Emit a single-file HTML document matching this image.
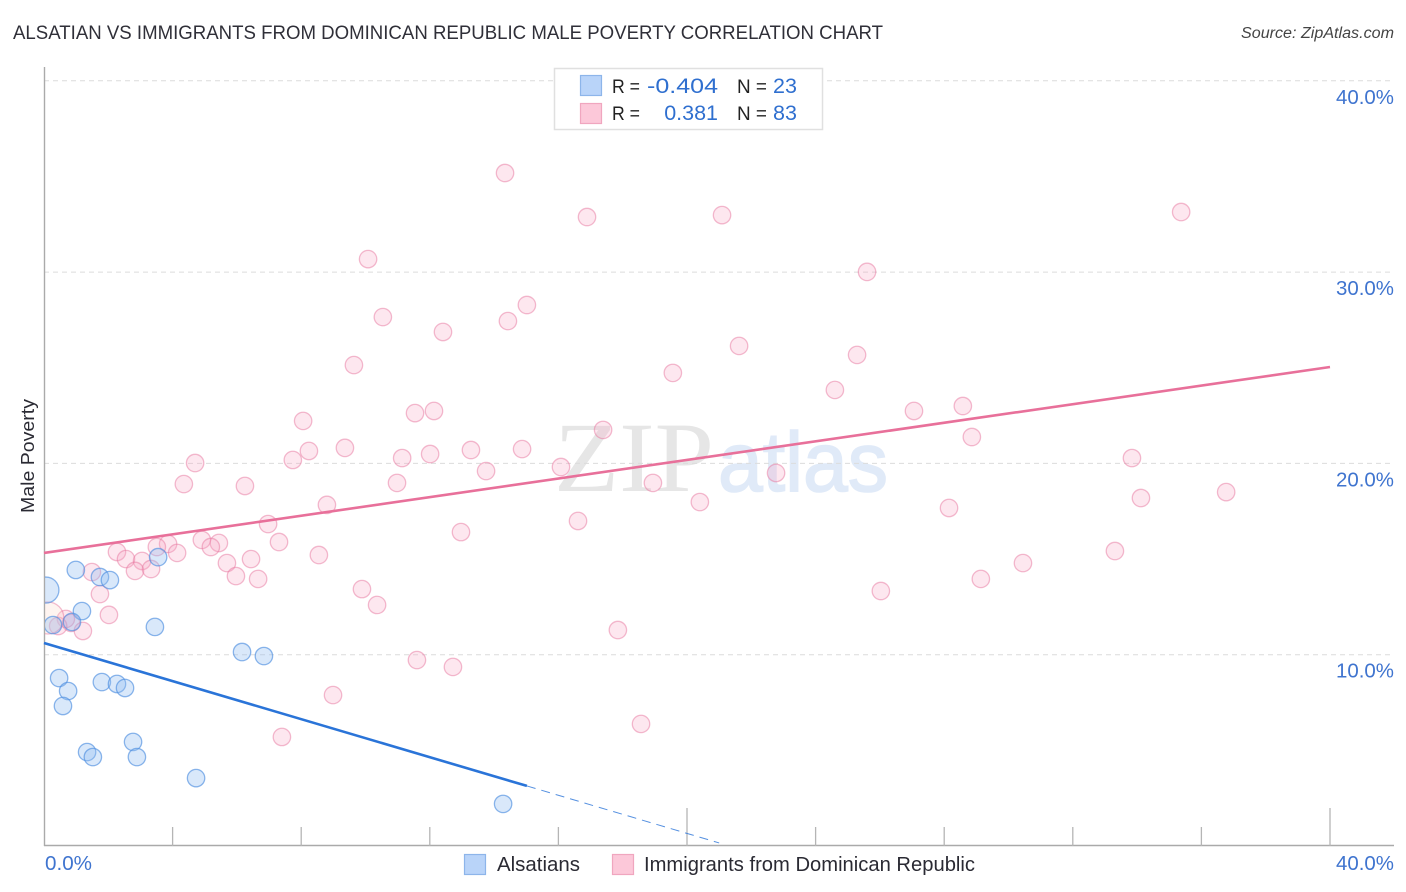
<!DOCTYPE html>
<html lang="en">
<head>
<meta charset="utf-8">
<title>Alsatian vs Immigrants from Dominican Republic Male Poverty Correlation Chart</title>
<style>
html,body{margin:0;padding:0;background:#fff;}
svg{display:block;font-family:"Liberation Sans",sans-serif;}
</style>
</head>
<body>
<svg id="chart" xmlns="http://www.w3.org/2000/svg" width="1406" height="892" viewBox="0 0 1406 892">
  <defs>
    <clipPath id="plot-clip"><rect x="45" y="60" width="1349" height="785"/></clipPath>
  </defs>
  <text x="13" y="39" font-size="19" fill="#2f2f38" textLength="870" lengthAdjust="spacingAndGlyphs">ALSATIAN VS IMMIGRANTS FROM DOMINICAN REPUBLIC MALE POVERTY CORRELATION CHART</text>
  <text x="1241" y="38" font-size="15.5" font-style="italic" fill="#444" textLength="153" lengthAdjust="spacingAndGlyphs">Source: ZipAtlas.com</text>

  <g id="watermark">
    <text x="554" y="491" font-family="'Liberation Serif',serif" font-size="100" fill="#e6e6e6" textLength="160" lengthAdjust="spacingAndGlyphs">ZIP</text>
    <text x="718" y="491" font-size="84" fill="#e0eaf8" stroke="#e0eaf8" stroke-width="1.6" textLength="170" lengthAdjust="spacingAndGlyphs">atlas</text>
  </g>

  <g id="grid"></g>
  <g id="axes"></g>
  <g id="points" clip-path="url(#plot-clip)"></g>
  <g id="trends"></g>
  <g id="labels"></g>

  <text transform="translate(34,513) rotate(-90)" font-size="18.5" fill="#2a2a33" textLength="114" lengthAdjust="spacingAndGlyphs">Male Poverty</text>

  <g>
    <rect x="554.5" y="68.5" width="268" height="61" fill="#fff" stroke="#e0e0e0" stroke-width="1.5"/>
    <rect x="580.5" y="75.5" width="21" height="20" fill="#b9d4f9" stroke="#8db5ea" stroke-width="1.2"/>
    <rect x="580.5" y="103.5" width="21" height="20" fill="#fcc8d9" stroke="#f0a6bf" stroke-width="1.2"/>
    <text x="612" y="93" font-size="19" fill="#222" textLength="28" lengthAdjust="spacingAndGlyphs">R =</text>
    <text x="647" y="93" font-size="21.5" fill="#2f6fcf" textLength="71" lengthAdjust="spacingAndGlyphs">-0.404</text>
    <text x="737" y="93" font-size="19" fill="#222" textLength="30" lengthAdjust="spacingAndGlyphs">N =</text>
    <text x="773" y="93" font-size="21.5" fill="#2f6fcf">23</text>
    <text x="612" y="120" font-size="19" fill="#222" textLength="28" lengthAdjust="spacingAndGlyphs">R =</text>
    <text x="718" y="120" font-size="21.5" fill="#2f6fcf" text-anchor="end">0.381</text>
    <text x="737" y="120" font-size="19" fill="#222" textLength="30" lengthAdjust="spacingAndGlyphs">N =</text>
    <text x="773" y="120" font-size="21.5" fill="#2f6fcf">83</text>
  </g>

  <g>
    <rect x="464.5" y="854.5" width="21" height="20" fill="#b9d4f9" stroke="#8db5ea" stroke-width="1.2"/>
    <text x="497" y="871" font-size="20" fill="#2a2a33" textLength="83" lengthAdjust="spacingAndGlyphs">Alsatians</text>
    <rect x="612.5" y="854.5" width="21" height="20" fill="#fcc8d9" stroke="#f0a6bf" stroke-width="1.2"/>
    <text x="644" y="871" font-size="20" fill="#2a2a33" textLength="331" lengthAdjust="spacingAndGlyphs">Immigrants from Dominican Republic</text>
  </g>
</svg>
<script>
var yGridValues = [10, 20, 30, 40];
var yTickLabels = ["10.0%", "20.0%", "30.0%", "40.0%"];
var xTickValues = [4, 8, 12, 16, 20, 24, 28, 32, 36, 40];
var xMajorTicks = [20, 40];
var xEndLabels = ["0.0%", "40.0%"];

var alsatianX = [0.06,0.99,1.74,2.05,3.55,1.18,0.87,0.28,3.45,6.16,6.84,0.47,0.75,0.59,1.80,2.27,2.52,1.34,1.52,2.77,2.89,4.73,14.28];
var alsatianY = [13.38,14.43,14.06,13.90,15.10,12.28,11.71,11.55,11.45,10.14,9.93,8.78,8.10,7.32,8.57,8.47,8.26,4.91,4.65,5.44,4.65,3.55,2.20];
var alsatianSize = [13,8.7,8.7,8.7,8.7,8.7,8.7,8.7,8.7,8.7,8.7,8.7,8.7,8.7,8.7,8.7,8.7,8.7,8.7,8.7,8.7,8.7,8.7];

var immigrantX = [14.34,16.89,21.09,35.37,10.08,25.60,10.54,15.02,14.43,12.41,21.62,9.64,25.29,19.56,24.60,11.54,12.13,27.06,28.58,8.06,17.39,28.86,9.36,8.24,7.74,11.14,12.01,13.28,14.87,33.84,4.70,13.75,16.08,22.77,4.35,6.25,10.98,18.94,34.12,36.77,8.80,20.40,28.15,6.97,12.97,16.61,7.31,4.91,5.44,3.86,3.51,2.27,2.55,4.14,5.19,3.05,5.69,6.44,8.55,33.31,30.45,2.83,3.33,1.49,5.97,6.66,29.14,9.89,26.03,1.74,10.36,2.02,17.85,0.84,1.21,0.68,0.44,0.12,11.60,12.72,8.99,18.57,7.40];
var immigrantY = [35.18,32.88,32.98,33.14,30.68,30.01,27.65,28.28,27.44,26.87,26.14,25.14,25.67,24.73,23.84,22.63,22.74,22.74,23.00,22.22,21.75,21.38,20.81,20.65,20.18,20.28,20.49,20.70,20.75,20.28,20.02,19.60,19.81,19.50,18.92,18.82,18.98,18.98,18.19,18.50,17.83,17.98,17.67,16.83,16.41,16.99,15.89,16.00,15.84,15.79,15.63,15.37,15.00,15.32,15.63,14.90,14.79,15.00,15.21,15.42,14.79,14.38,14.48,14.32,14.11,13.96,13.96,13.43,13.33,13.17,12.60,12.08,11.29,11.66,11.24,11.87,11.50,11.92,9.72,9.36,7.89,6.38,5.70];
var immigrantLargeIndex = 77;

var immigrantTrendX = [0, 40];
var immigrantTrendY = [15.32, 25.04];
var alsatianTrendX = [0, 15.02];
var alsatianTrendY = [10.61, 3.14];
var alsatianDashX = [15.02, 21.0];
var alsatianDashY = [3.14, 0.16];

var NS = "http://www.w3.org/2000/svg";
function xScale(v) { return 44 + v * 32.15; }
function yScale(v) { return 846 - v * 19.13; }
function make(tag, parentId) {
  var el = document.createElementNS(NS, tag);
  document.getElementById(parentId).appendChild(el);
  return el;
}

yGridValues.forEach(function (v, i) {
  var line = make("line", "grid");
  
  
  line.setAttribute("x1", 44);
  line.setAttribute("x2", 1394);
  line.setAttribute("y1", yScale(v));
  line.setAttribute("y2", yScale(v));
  line.setAttribute("stroke", "#dcdcdc");
  line.setAttribute("stroke-width", "1");
  line.setAttribute("stroke-dasharray", "5 4");

  var label = make("text", "labels");
  
  
  label.setAttribute("x", 1336);
  label.setAttribute("y", yScale(v) + 23);
  label.setAttribute("font-size", "20");
  label.setAttribute("fill", "#3f74cf");
  label.setAttribute("textLength", "58");
  label.setAttribute("lengthAdjust", "spacingAndGlyphs");
  label.textContent = yTickLabels[i];
});

var yAxisLine = make("line", "axes");


yAxisLine.setAttribute("x1", 44.5);
yAxisLine.setAttribute("x2", 44.5);
yAxisLine.setAttribute("y1", 67);
yAxisLine.setAttribute("y2", 846);
yAxisLine.setAttribute("stroke", "#aaa");
yAxisLine.setAttribute("stroke-width", "1.4");

var xAxisLine = make("line", "axes");


xAxisLine.setAttribute("x1", 44);
xAxisLine.setAttribute("x2", 1394);
xAxisLine.setAttribute("y1", 845.5);
xAxisLine.setAttribute("y2", 845.5);
xAxisLine.setAttribute("stroke", "#aaa");
xAxisLine.setAttribute("stroke-width", "1.4");

xTickValues.forEach(function (v) {
  var tick = make("line", "axes");
  
  
  tick.setAttribute("x1", xScale(v));
  tick.setAttribute("x2", xScale(v));
  tick.setAttribute("y1", xMajorTicks.indexOf(v) >= 0 ? 808 : 827);
  tick.setAttribute("y2", 846);
  tick.setAttribute("stroke", "#b5b5b5");
  tick.setAttribute("stroke-width", "1.3");
});

var xLabelLeft = make("text", "labels");


xLabelLeft.setAttribute("x", 45);
xLabelLeft.setAttribute("y", 870);
xLabelLeft.setAttribute("font-size", "20");
xLabelLeft.setAttribute("fill", "#3f74cf");
xLabelLeft.setAttribute("textLength", "47");
xLabelLeft.setAttribute("lengthAdjust", "spacingAndGlyphs");
xLabelLeft.textContent = xEndLabels[0];

var xLabelRight = make("text", "labels");


xLabelRight.setAttribute("x", 1336);
xLabelRight.setAttribute("y", 870);
xLabelRight.setAttribute("font-size", "20");
xLabelRight.setAttribute("fill", "#3f74cf");
xLabelRight.setAttribute("textLength", "58");
xLabelRight.setAttribute("lengthAdjust", "spacingAndGlyphs");
xLabelRight.textContent = xEndLabels[1];

immigrantX.forEach(function (v, i) {
  var c = make("circle", "points");
  
  
  c.setAttribute("cx", xScale(v));
  c.setAttribute("cy", yScale(immigrantY[i]));
  c.setAttribute("r", i === immigrantLargeIndex ? 16 : 8.7);
  c.setAttribute("fill", i === immigrantLargeIndex ? "#fbd5c8" : "#f9a8c4");
  c.setAttribute("fill-opacity", "0.27");
  c.setAttribute("stroke", "#e8779f");
  c.setAttribute("stroke-opacity", "0.5");
  c.setAttribute("stroke-width", "1.3");
});

alsatianX.forEach(function (v, i) {
  var c = make("circle", "points");
  
  
  c.setAttribute("cx", xScale(v));
  c.setAttribute("cy", yScale(alsatianY[i]));
  c.setAttribute("r", alsatianSize[i]);
  c.setAttribute("fill", "#93bdf0");
  c.setAttribute("fill-opacity", "0.35");
  c.setAttribute("stroke", "#4f8fe0");
  c.setAttribute("stroke-opacity", "0.65");
  c.setAttribute("stroke-width", "1.3");
});

var pinkTrend = make("line", "trends");


pinkTrend.setAttribute("x1", xScale(immigrantTrendX[0]));
pinkTrend.setAttribute("y1", yScale(immigrantTrendY[0]));
pinkTrend.setAttribute("x2", xScale(immigrantTrendX[1]));
pinkTrend.setAttribute("y2", yScale(immigrantTrendY[1]));
pinkTrend.setAttribute("stroke", "#e8709a");
pinkTrend.setAttribute("stroke-width", "2.6");

var blueTrend = make("line", "trends");


blueTrend.setAttribute("x1", xScale(alsatianTrendX[0]));
blueTrend.setAttribute("y1", yScale(alsatianTrendY[0]));
blueTrend.setAttribute("x2", xScale(alsatianTrendX[1]));
blueTrend.setAttribute("y2", yScale(alsatianTrendY[1]));
blueTrend.setAttribute("stroke", "#2a74d8");
blueTrend.setAttribute("stroke-width", "2.6");

var blueDash = make("line", "trends");


blueDash.setAttribute("x1", xScale(alsatianDashX[0]));
blueDash.setAttribute("y1", yScale(alsatianDashY[0]));
blueDash.setAttribute("x2", xScale(alsatianDashX[1]));
blueDash.setAttribute("y2", yScale(alsatianDashY[1]));
blueDash.setAttribute("stroke", "#2a74d8");
blueDash.setAttribute("stroke-opacity", "0.8");
blueDash.setAttribute("stroke-width", "1");
blueDash.setAttribute("stroke-dasharray", "9 6");
</script>
</body>
</html>
